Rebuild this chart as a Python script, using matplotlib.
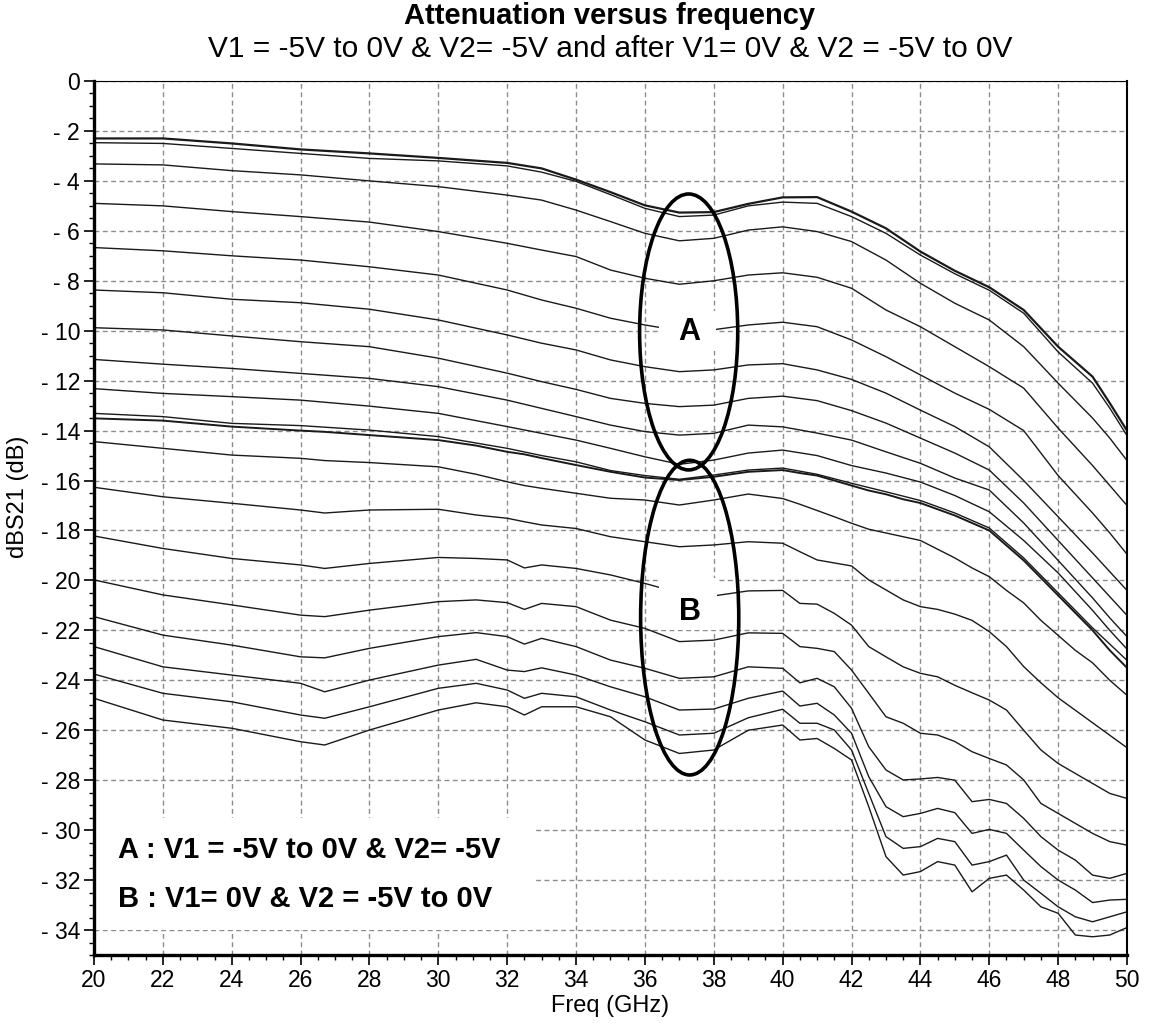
# Attenuation versus frequency, two bias sweeps (A and B)
import matplotlib
matplotlib.use("Agg")
import matplotlib.pyplot as plt
from matplotlib.patches import Ellipse, Rectangle
from matplotlib.ticker import MultipleLocator

plt.rcParams["font.family"] = ["Liberation Sans", "DejaVu Sans"]

# sweep A : V1 = -5V to 0V, V2 = -5V
freq_a = [20, 22, 24, 26, 28, 30, 32, 33, 34, 35, 36, 37, 38, 39, 40,
          41, 42, 43, 44, 45, 46, 47, 48, 49, 49.5, 50]
a1 = [-2.30, -2.30, -2.50, -2.74, -2.90, -3.08, -3.28, -3.50, -3.95, -4.45, -4.98, -5.27, -5.25,
      -4.92, -4.66, -4.65, -5.23, -5.90, -6.83, -7.60, -8.26, -9.17, -10.64, -11.84, -12.90, -14.00]
a2 = [-2.47, -2.50, -2.70, -2.90, -3.10, -3.20, -3.40, -3.65, -4.02, -4.55, -5.10, -5.43, -5.37,
      -5.00, -4.85, -4.90, -5.43, -6.10, -6.97, -7.72, -8.38, -9.30, -10.85, -12.10, -13.10, -14.20]
a3 = [-3.32, -3.36, -3.59, -3.76, -4.00, -4.23, -4.57, -4.77, -5.17, -5.63, -6.10, -6.40, -6.30,
      -5.97, -5.84, -6.03, -6.43, -7.17, -8.10, -8.90, -9.57, -10.64, -12.10, -13.50, -14.30, -15.20]
a4 = [-4.90, -5.00, -5.23, -5.43, -5.65, -6.03, -6.50, -6.77, -7.03, -7.57, -7.90, -8.14, -8.00,
      -7.77, -7.68, -7.86, -8.30, -9.17, -9.84, -10.64, -11.44, -12.30, -13.90, -15.40, -16.20, -17.00]
a5 = [-6.67, -6.80, -7.00, -7.17, -7.44, -7.77, -8.37, -8.77, -9.10, -9.50, -9.77, -10.00, -9.96,
      -9.77, -9.66, -9.84, -10.37, -11.04, -11.77, -12.50, -13.15, -14.00, -15.80, -17.30, -18.10, -18.95]
a6 = [-8.37, -8.48, -8.74, -8.88, -9.14, -9.57, -10.17, -10.50, -10.77, -11.17, -11.44, -11.64, -11.57,
      -11.37, -11.32, -11.57, -11.95, -12.50, -13.18, -13.84, -14.65, -16.00, -17.45, -18.90, -19.65, -20.40]
a7 = [-9.88, -9.97, -10.21, -10.44, -10.64, -11.10, -11.70, -12.04, -12.35, -12.71, -12.91, -13.04, -12.98,
      -12.71, -12.62, -12.80, -13.20, -13.70, -14.30, -14.90, -15.58, -16.90, -18.40, -19.90, -20.65, -21.40]
a8 = [-11.15, -11.34, -11.51, -11.71, -11.91, -12.24, -12.78, -13.11, -13.44, -13.78, -14.04, -14.18, -14.11,
      -13.78, -13.85, -14.10, -14.38, -14.85, -15.31, -15.90, -16.38, -17.70, -19.20, -20.70, -21.50, -22.25]
a9 = [-12.32, -12.51, -12.64, -12.78, -13.02, -13.31, -13.84, -14.11, -14.38, -14.71, -15.05, -15.35, -15.18,
      -14.90, -14.78, -15.00, -15.40, -15.70, -16.06, -16.60, -17.25, -18.40, -19.70, -21.20, -22.00, -22.75]
a10 = [-13.31, -13.44, -13.71, -13.80, -13.98, -14.24, -14.71, -15.00, -15.25, -15.60, -15.80, -15.95, -15.78,
       -15.58, -15.50, -15.75, -16.11, -16.45, -16.80, -17.30, -17.90, -19.10, -20.50, -21.90, -22.55, -23.20]

# sweep B : V1 = 0V, V2 = -5V to 0V
freq_b = [20, 22, 24, 26, 26.7, 28, 30, 31.1, 32, 32.5, 33, 34, 35, 36, 37, 38, 39, 40,
          40.5, 41, 41.5, 42, 42.5, 43, 43.5, 44, 44.5, 45, 45.5, 46, 46.5, 47, 47.5, 48,
          48.5, 49, 49.5, 50]
b1 = [-13.51, -13.60, -13.84, -14.00, -14.05, -14.18, -14.38, -14.60, -14.85, -14.95, -15.10, -15.38, -15.65,
      -15.88, -15.98, -15.85, -15.65, -15.58, -15.70, -15.80, -16.00, -16.20, -16.40, -16.55, -16.75, -16.90,
      -17.15, -17.40, -17.70, -18.00, -18.60, -19.20, -19.90, -20.60, -21.30, -22.00, -22.80, -23.50]
b2 = [-14.44, -14.71, -14.98, -15.11, -15.20, -15.28, -15.45, -15.75, -16.05, -16.20, -16.31, -16.51, -16.71,
      -16.78, -16.98, -16.78, -16.54, -16.72, -16.95, -17.20, -17.45, -17.71, -17.95, -18.10, -18.25, -18.40,
      -18.75, -19.10, -19.50, -19.85, -20.40, -20.90, -21.60, -22.20, -22.80, -23.30, -24.00, -24.60]
b3 = [-16.27, -16.65, -16.91, -17.18, -17.30, -17.18, -17.15, -17.38, -17.51, -17.65, -17.78, -17.92, -18.25,
      -18.45, -18.65, -18.58, -18.45, -18.51, -18.85, -19.18, -19.30, -19.42, -19.98, -20.38, -20.78, -21.05,
      -21.16, -21.35, -21.60, -22.05, -22.65, -23.45, -24.10, -24.70, -25.20, -25.70, -26.20, -26.70]
b4 = [-18.22, -18.72, -19.12, -19.38, -19.52, -19.32, -19.08, -19.12, -19.18, -19.50, -19.38, -19.52, -19.78,
      -20.12, -20.50, -20.62, -20.42, -20.40, -20.92, -20.95, -21.32, -21.79, -22.65, -23.06, -23.46, -23.72,
      -23.86, -24.20, -24.50, -24.79, -25.19, -26.00, -26.79, -27.33, -27.73, -28.13, -28.53, -28.73]
b5 = [-19.98, -20.58, -20.98, -21.39, -21.45, -21.19, -20.85, -20.78, -20.89, -21.16, -20.92, -21.05, -21.59,
      -21.92, -22.45, -22.39, -22.10, -22.12, -22.65, -22.72, -22.85, -23.59, -24.52, -25.46, -25.72, -26.12,
      -26.19, -26.45, -26.86, -27.13, -27.39, -27.99, -28.93, -29.33, -29.73, -30.13, -30.46, -30.60]
b6 = [-21.45, -22.19, -22.59, -23.06, -23.10, -22.72, -22.25, -22.09, -22.25, -22.55, -22.32, -22.65, -23.19,
      -23.52, -23.92, -23.86, -23.46, -23.52, -24.10, -23.92, -24.26, -25.12, -26.66, -27.59, -27.99, -27.95,
      -27.89, -28.00, -28.86, -28.77, -28.93, -29.53, -30.26, -30.80, -31.20, -31.80, -31.93, -31.73]
b7 = [-22.65, -23.46, -23.79, -24.12, -24.46, -23.99, -23.39, -23.16, -23.59, -23.65, -23.50, -23.79, -24.26,
      -24.66, -25.19, -25.15, -24.72, -24.43, -25.03, -24.92, -25.39, -26.12, -27.86, -29.06, -29.46, -29.33,
      -29.13, -29.30, -30.13, -29.97, -30.13, -30.80, -31.46, -32.00, -32.40, -32.90, -32.80, -32.77]
b8 = [-23.75, -24.52, -24.86, -25.39, -25.52, -25.06, -24.32, -24.12, -24.39, -24.72, -24.52, -24.66, -25.19,
      -25.66, -26.19, -26.12, -25.50, -25.16, -25.72, -25.72, -25.99, -26.79, -28.53, -30.26, -30.73, -30.66,
      -30.33, -30.46, -31.40, -31.26, -31.00, -32.00, -32.53, -33.07, -33.47, -33.67, -33.47, -33.27]
b9 = [-24.72, -25.59, -25.92, -26.46, -26.59, -25.99, -25.19, -24.90, -25.06, -25.39, -25.06, -25.06, -25.46,
      -26.39, -26.93, -26.79, -26.00, -25.79, -26.39, -26.33, -26.73, -27.19, -29.06, -31.06, -31.80, -31.66,
      -31.26, -31.40, -32.47, -31.93, -31.80, -32.40, -33.07, -33.33, -34.20, -34.27, -34.20, -33.90]

curves_a = [a1, a2, a3, a4, a5, a6, a7, a8, a9, a10]
curves_b = [b1, b2, b3, b4, b5, b6, b7, b8, b9]

x_ticks = list(range(20, 51, 2))
y_ticks = list(range(0, -35, -2))

title = "Attenuation versus frequency"
subtitle = "V1 = -5V to 0V & V2= -5V and after V1= 0V & V2 = -5V to 0V"
legend_a = "A : V1 = -5V to 0V & V2= -5V"
legend_b = "B : V1= 0V & V2 = -5V to 0V"

fig = plt.figure(figsize=(11.52, 10.27), dpi=100)
ax = fig.add_axes([94 / 1152, 1 - 955 / 1027, 1033 / 1152, 874 / 1027])

for i, c in enumerate(curves_a):
    ax.plot(freq_a, c, color="#1a1a1a", lw=1.6 if i == 0 else 1.0, zorder=2)
for i, c in enumerate(curves_b):
    ax.plot(freq_b, c, color="#1a1a1a", lw=1.4 if i == 0 else 1.0, zorder=2)

ax.set_xlim(20, 50)
ax.set_ylim(-35, 0)
ax.set_xticks(x_ticks)
ax.set_yticks(y_ticks)
ax.set_yticklabels(["0" if v == 0 else f"- {abs(v)}" for v in y_ticks])
ax.xaxis.set_minor_locator(MultipleLocator(0.5))
ax.yaxis.set_minor_locator(MultipleLocator(0.5))
ax.tick_params(which="major", length=7, width=1.2, labelsize=16.5, pad=3)
ax.tick_params(which="minor", length=3.5, width=1.0)
ax.set_axisbelow(True)
ax.grid(True, which="major", color="#8c8c8c", lw=1.0, linestyle=(0, (3.5, 2.5)))

ax.spines["left"].set_linewidth(2.4)
ax.spines["bottom"].set_linewidth(2.4)
ax.spines["right"].set_linewidth(1.5)
ax.spines["top"].set_linewidth(0.8)

# white patches where the labels sit
ax.add_patch(Rectangle((36.4, -10.8), 1.65, 1.6, facecolor="white", edgecolor="none", zorder=3))
ax.add_patch(Rectangle((36.4, -22.0), 1.7, 2.1, facecolor="white", edgecolor="none", zorder=3))
ax.add_patch(Rectangle((20, -34.0), 12.75, 4.5, facecolor="white", edgecolor="none", zorder=1))

ax.add_patch(Ellipse((37.27, -10.05), 2.85, 11.05, fill=False, lw=2.6, color="black", zorder=4))
ax.add_patch(Ellipse((37.3, -21.49), 2.85, 12.6, fill=False, lw=2.6, color="black", zorder=4))
ax.text(37.3, -10.04, "A", fontsize=22, fontweight="bold", ha="center", va="center", zorder=5)
ax.text(37.3, -21.25, "B", fontsize=22, fontweight="bold", ha="center", va="center", zorder=5)

ax.text(20.7, -31.12, legend_a, fontsize=21, fontweight="bold", ha="left", va="baseline", zorder=5)
ax.text(20.7, -33.08, legend_b, fontsize=21, fontweight="bold", ha="left", va="baseline", zorder=5)

fig.text(610 / 1152, 1 - 16 / 1027, title, fontsize=21, fontweight="bold", ha="center", va="center")
fig.text(610 / 1152, 1 - 49 / 1027, subtitle, fontsize=21.5, ha="center", va="center")
fig.text(610 / 1152, 1 - 1006 / 1027, "Freq (GHz)", fontsize=17, ha="center", va="center")
fig.text(18 / 1152, 1 - 497 / 1027, "dBS21 (dB)", fontsize=17, rotation=90, ha="center", va="center")

fig.savefig("out.png", dpi=100)
